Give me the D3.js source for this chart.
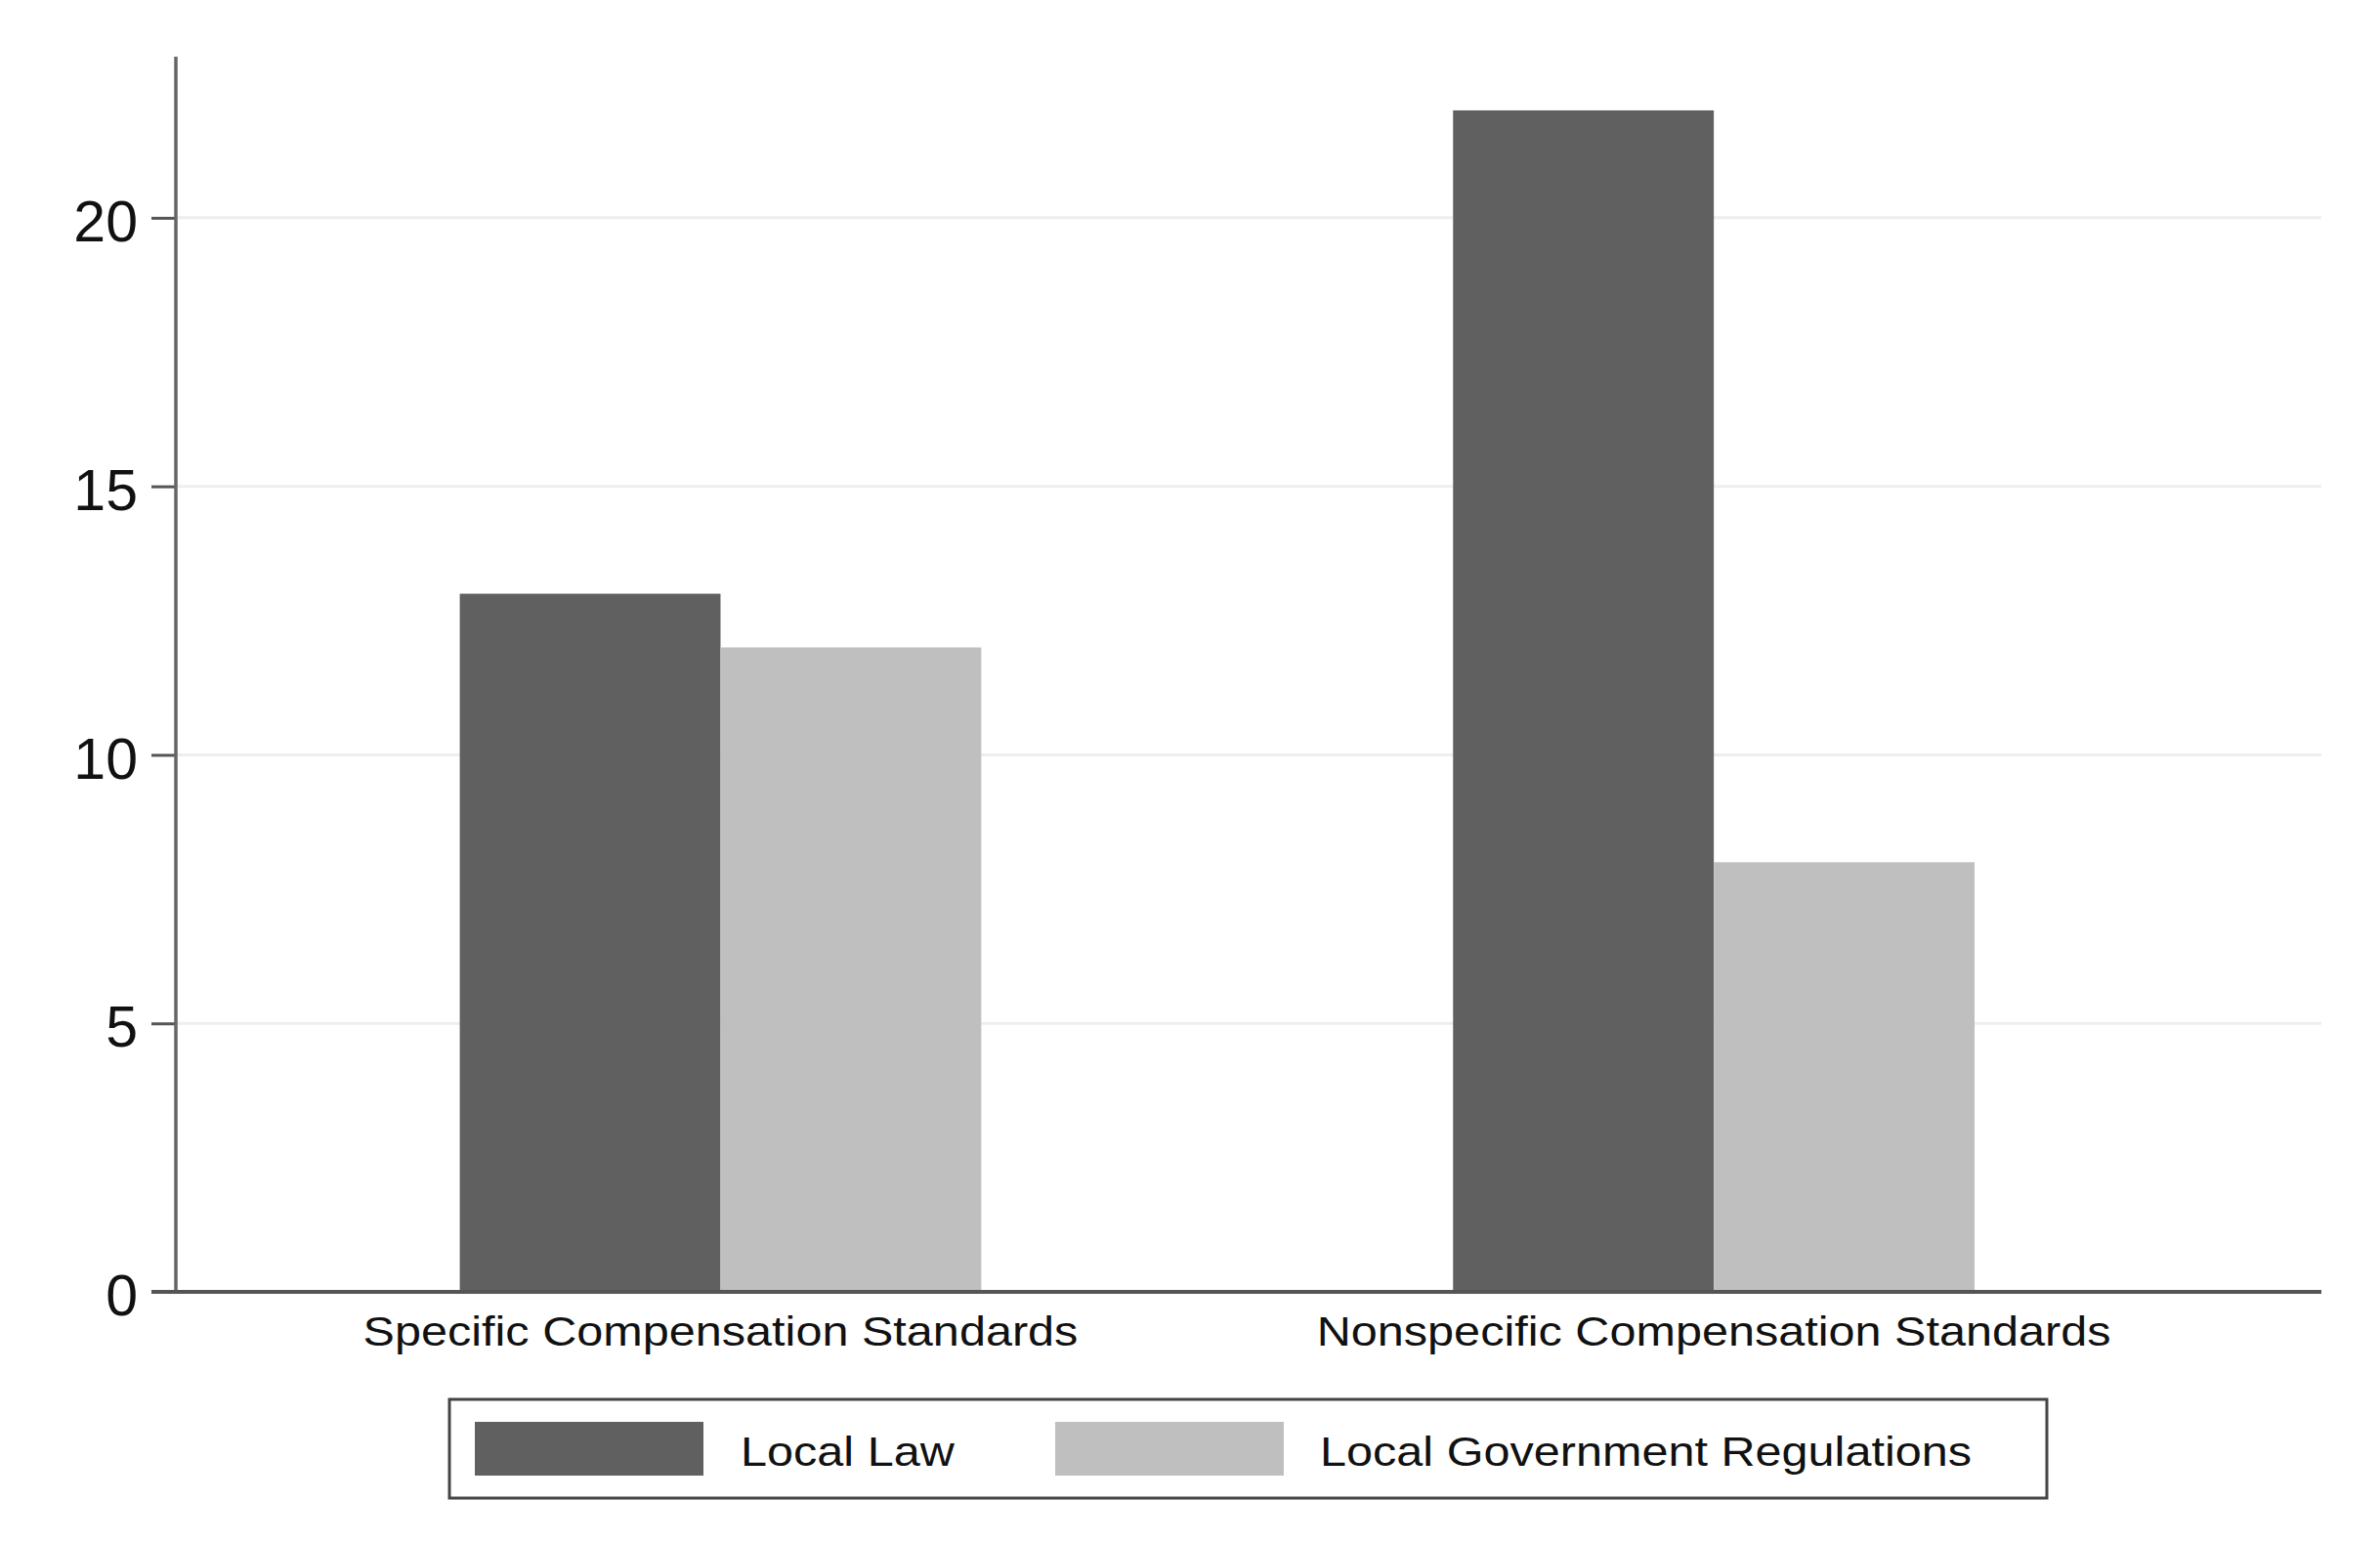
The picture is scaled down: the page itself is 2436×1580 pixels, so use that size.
<!DOCTYPE html>
<html>
<head>
<meta charset="utf-8">
<script src="https://cdn.jsdelivr.net/npm/d3@7"></script>
<style>
  html, body { margin: 0; padding: 0; background: #ffffff; }
  svg { display: block; }
  text { font-family: "Liberation Sans", Arial, Helvetica, sans-serif; fill: #111; }
</style>
</head>
<body>
<svg id="chart" width="2436" height="1580"></svg>
<script>
const categories = ["Specific Compensation Standards", "Nonspecific Compensation Standards"];
const seriesNames = ["Local Law", "Local Government Regulations"];
const localLaw = [13, 22];
const localGovRegs = [12, 8];
const yTicks = [0, 5, 10, 15, 20];
const seriesColors = ["#606060", "#bfbfbf"];

const W = 2436, H = 1580;
const plot = { left: 180, right: 2376, top: 58, bottom: 1322 };

const svg = d3.select("#chart");
svg.append("rect").attr("width", W).attr("height", H).attr("fill", "#fff");

const y = d3.scaleLinear().domain([0, 23]).range([plot.bottom, plot.top]);
const x0 = d3.scaleBand().domain(categories).range([470.6, 2021]).paddingInner(0.475).paddingOuter(0);
const x1 = d3.scaleBand().domain(seriesNames).range([0, x0.bandwidth()]).padding(0);

const data = categories.map((c, i) => ({
  cat: c,
  values: [
    { s: seriesNames[0], v: localLaw[i] },
    { s: seriesNames[1], v: localGovRegs[i] }
  ]
}));

// gridlines
svg.append("g")
  .selectAll("line")
  .data(yTicks.filter(t => t > 0))
  .join("line")
  .attr("x1", plot.left + 2).attr("x2", plot.right)
  .attr("y1", d => y(d)).attr("y2", d => y(d))
  .attr("stroke", "#eeeeee").attr("stroke-width", 3);

// bars
const groups = svg.append("g").selectAll("g")
  .data(data).join("g")
  .attr("transform", d => `translate(${x0(d.cat)},0)`);
groups.selectAll("rect")
  .data(d => d.values).join("rect")
  .attr("x", d => x1(d.s))
  .attr("width", x1.bandwidth())
  .attr("y", d => y(d.v))
  .attr("height", d => y(0) - y(d.v))
  .attr("fill", (d, i) => seriesColors[i]);

// y axis
const yAxis = d3.axisLeft(y).tickValues(yTicks).tickSize(25).tickPadding(14).tickSizeOuter(0);
const gy = svg.append("g").attr("transform", `translate(${plot.left},0)`).call(yAxis);
gy.select(".domain").remove();
gy.selectAll(".tick line").attr("stroke", "#555").attr("stroke-width", 3);
gy.selectAll(".tick text")
  .attr("font-size", 59)
  .attr("font-family", "Liberation Sans, Arial, sans-serif")
  .attr("fill", "#111")
  .attr("dy", "0.4em");
svg.append("line")
  .attr("x1", plot.left).attr("x2", plot.left)
  .attr("y1", plot.top).attr("y2", plot.bottom)
  .attr("stroke", "#666").attr("stroke-width", 3.5);

// x axis line
svg.append("line")
  .attr("x1", plot.left - 25).attr("x2", plot.right)
  .attr("y1", plot.bottom).attr("y2", plot.bottom)
  .attr("stroke", "#555").attr("stroke-width", 4);

// x labels
svg.append("g").selectAll("text")
  .data(categories).join("text")
  .attr("transform", d => `translate(${x0(d) + x0.bandwidth() / 2},1377) scale(1.13,1)`)
  .attr("text-anchor", "middle")
  .attr("font-size", 43)
  .text(d => d);

// legend
const legend = svg.append("g");
legend.append("rect")
  .attr("x", 460).attr("y", 1432).attr("width", 1635).attr("height", 101)
  .attr("fill", "#fff").attr("stroke", "#444").attr("stroke-width", 3);
const legendItems = [
  { name: seriesNames[0], color: seriesColors[0], sx: 486, tx: 758 },
  { name: seriesNames[1], color: seriesColors[1], sx: 1080, tx: 1351 }
];
const li = legend.selectAll("g.item").data(legendItems).join("g").attr("class", "item");
li.append("rect")
  .attr("x", d => d.sx).attr("y", 1455).attr("width", 234).attr("height", 55)
  .attr("fill", d => d.color);
li.append("text")
  .attr("transform", d => `translate(${d.tx},1500) scale(1.13,1)`)
  .attr("font-size", 43)
  .text(d => d.name);
</script>
</body>
</html>
